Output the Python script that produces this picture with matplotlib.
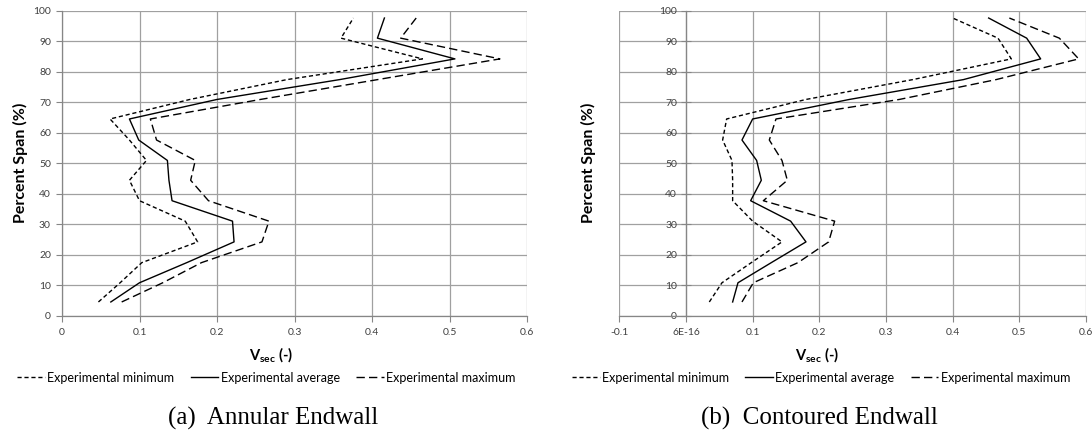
import matplotlib
matplotlib.use('Agg')
import matplotlib.pyplot as plt

plt.rcParams['font.family'] = ['Lato', 'DejaVu Sans']
plt.rcParams['mathtext.fontset'] = 'custom'
plt.rcParams['mathtext.rm'] = 'Lato'
plt.rcParams['mathtext.bf'] = 'Lato:bold'

# percent span of the measurement points
span = [4.5, 10.8, 17.4, 24.2, 31.0, 37.7, 44.4, 50.9, 57.6, 64.5, 70.9, 77.4, 84.2, 91.0, 97.6]

# (a) annular endwall
annular_min = [0.047, 0.075, 0.103, 0.175, 0.159, 0.100, 0.087, 0.109, 0.087, 0.062, 0.165, 0.290, 0.465, 0.360, 0.376]
annular_avg = [0.063, 0.100, 0.161, 0.222, 0.220, 0.142, 0.138, 0.136, 0.099, 0.087, 0.200, 0.358, 0.507, 0.407, 0.416]
annular_max = [0.077, 0.130, 0.180, 0.258, 0.267, 0.189, 0.166, 0.172, 0.122, 0.114, 0.256, 0.407, 0.565, 0.437, 0.457]

# (b) contoured endwall
contoured_min = [0.035, 0.054, 0.098, 0.144, 0.100, 0.070, 0.070, 0.069, 0.055, 0.061, 0.180, 0.340, 0.488, 0.468, 0.400]
contoured_avg = [0.070, 0.078, 0.128, 0.180, 0.157, 0.097, 0.113, 0.106, 0.084, 0.100, 0.245, 0.416, 0.532, 0.511, 0.454]
contoured_max = [0.084, 0.101, 0.168, 0.214, 0.223, 0.116, 0.152, 0.144, 0.125, 0.135, 0.320, 0.465, 0.589, 0.560, 0.485]

yticks = [0, 10, 20, 30, 40, 50, 60, 70, 80, 90, 100]
xticks_a = [0, 0.1, 0.2, 0.3, 0.4, 0.5, 0.6]
xlabels_a = ['0', '0.1', '0.2', '0.3', '0.4', '0.5', '0.6']
xticks_b = [-0.1, 0, 0.1, 0.2, 0.3, 0.4, 0.5, 0.6]
xlabels_b = ['-0.1', '6E-16', '0.1', '0.2', '0.3', '0.4', '0.5', '0.6']

series_names = ['Experimental minimum', 'Experimental average', 'Experimental maximum']
captions = ['(a)  Annular Endwall', '(b)  Contoured Endwall']

grid_col = '#a0a0a0'
axis_col = '#868686'
text_col = '#404040'
styles = [(0, (3, 2)), '-', (0, (6, 3))]

fig = plt.figure(figsize=(10.92, 4.32), dpi=100)
ax_a = fig.add_axes([62 / 1092, 1 - 315.7 / 432, 465 / 1092, 305 / 432])
ax_b = fig.add_axes([619.3 / 1092, 1 - 315.7 / 432, 466.7 / 1092, 305 / 432])

panels = [
    (ax_a, [annular_min, annular_avg, annular_max], xticks_a, xlabels_a, (0, 0.6)),
    (ax_b, [contoured_min, contoured_avg, contoured_max], xticks_b, xlabels_b, (-0.1, 0.6)),
]

for i, (ax, data, xt, xl, xlim) in enumerate(panels):
    lines = []
    for vals, ls, name in zip(data, styles, series_names):
        ln, = ax.plot(vals, span, color='black', lw=1.0, linestyle=ls, label=name)
        lines.append(ln)
    ax.set_xlim(*xlim)
    ax.set_ylim(0, 100)
    ax.set_xticks(xt, xl)
    ax.set_yticks(yticks)
    ax.grid(True, color=grid_col, lw=0.9)
    ax.set_axisbelow(True)
    for s in ['top', 'right']:
        ax.spines[s].set_visible(False)
    for s in ['left', 'bottom']:
        ax.spines[s].set_color(axis_col)
        ax.spines[s].set_linewidth(0.9)
    ax.tick_params(axis='x', colors=axis_col, labelcolor=text_col, labelsize=7.5,
                   length=4, width=0.8, pad=5)
    ax.tick_params(axis='y', colors=axis_col, labelcolor=text_col, labelsize=7.5,
                   length=4, width=0.8, pad=4)
    if i == 1:
        ax.spines['left'].set_position(('data', 0))
        ax.tick_params(axis='y', direction='inout', length=7, pad=3)

    cx = 0.25 + 0.5 * i
    fig.text(cx - 0.002, 1 - 355 / 432, r'$\mathbf{V_{sec}}$ (-)', ha='center', va='center',
             fontsize=10.5, fontweight='bold', color='black')
    fig.text((20 + 568 * i) / 1092, 1 - 163 / 432, 'Percent Span (%)', rotation=90,
             ha='center', va='center', fontsize=11.5, fontweight='bold', color='black')
    fig.legend(handles=lines, loc='center', bbox_to_anchor=(cx - 0.006 * (1 - i) + 0.002 * i, 1 - 377.7 / 432),
               ncol=3, frameon=False, fontsize=9, handlelength=2.2, handletextpad=0.2,
               columnspacing=1.3, borderpad=0)
    fig.text(cx, 1 - 418 / 432, captions[i], ha='center', va='center',
             fontsize=18, family='Liberation Serif', color='black')

fig.savefig('out.png', dpi=100)
